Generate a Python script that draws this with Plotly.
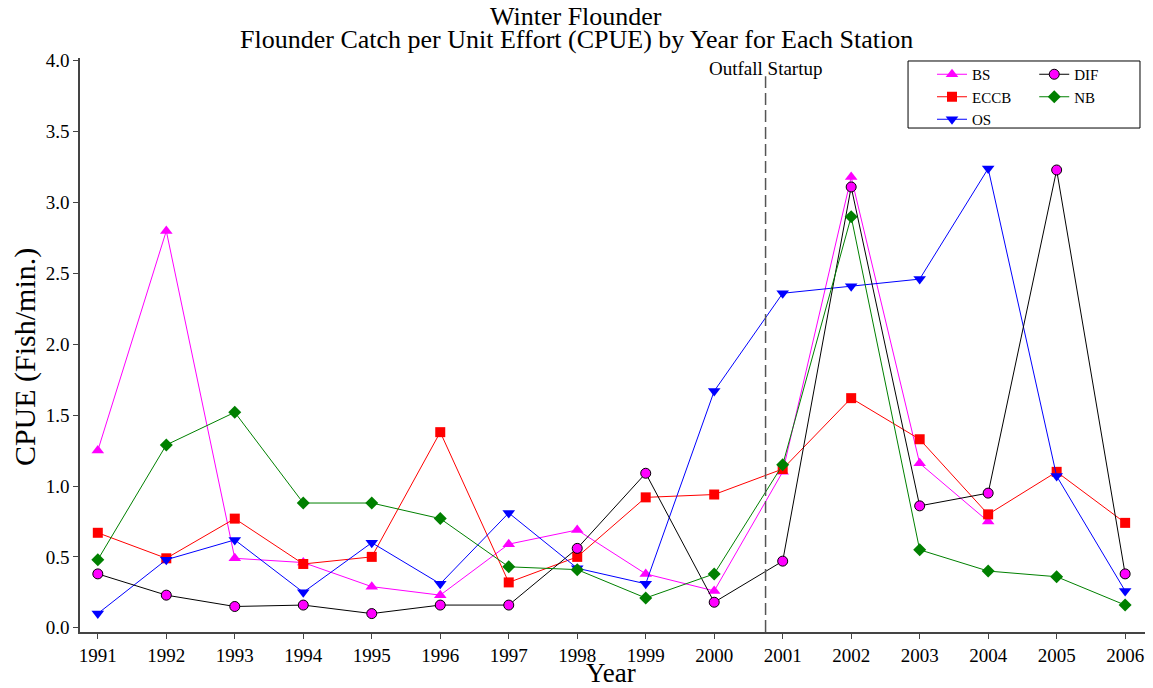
import plotly.graph_objects as go

years = list(range(1991, 2007))
bs = [1.25, 2.80, 0.49, 0.46, 0.29, 0.23, 0.59, 0.69, 0.38, 0.26, 1.10, 3.18, 1.16, 0.75, None, None]
eccb = [0.67, 0.49, 0.77, 0.45, 0.50, 1.38, 0.32, 0.50, 0.92, 0.94, 1.12, 1.62, 1.33, 0.80, 1.10, 0.74]
os_ = [0.10, 0.48, 0.62, 0.25, 0.60, 0.31, 0.81, 0.42, 0.31, 1.67, 2.36, 2.41, 2.46, 3.24, 1.07, 0.26]
dif = [0.38, 0.23, 0.15, 0.16, 0.10, 0.16, 0.16, 0.56, 1.09, 0.18, 0.47, 3.11, 0.86, 0.95, 3.23, 0.38]
nb = [0.48, 1.29, 1.52, 0.88, 0.88, 0.77, 0.43, 0.41, 0.21, 0.38, 1.15, 2.90, 0.55, 0.40, 0.36, 0.16]
startup_year = 2000.75
y_ticks = [0.0, 0.5, 1.0, 1.5, 2.0, 2.5, 3.0, 3.5, 4.0]

FONT = "Liberation Serif"

fig = go.Figure()
fig.add_trace(go.Scatter(x=years, y=bs, name="BS", mode="lines+markers",
                         line=dict(color="#ff00ff", width=1),
                         marker=dict(symbol="triangle-up", size=11, color="#ff00ff"),
                         legend="legend"))
fig.add_trace(go.Scatter(x=years, y=eccb, name="ECCB", mode="lines+markers",
                         line=dict(color="#ff0000", width=1),
                         marker=dict(symbol="square", size=10, color="#ff0000"),
                         legend="legend"))
fig.add_trace(go.Scatter(x=years, y=os_, name="OS", mode="lines+markers",
                         line=dict(color="#0000ff", width=1),
                         marker=dict(symbol="triangle-down", size=11, color="#0000ff"),
                         legend="legend"))
fig.add_trace(go.Scatter(x=years, y=dif, name="DIF", mode="lines+markers",
                         line=dict(color="#000000", width=1),
                         marker=dict(symbol="circle", size=10, color="#ff00ff",
                                     line=dict(color="#000000", width=1)),
                         legend="legend2"))
fig.add_trace(go.Scatter(x=years, y=nb, name="NB", mode="lines+markers",
                         line=dict(color="#008000", width=1),
                         marker=dict(symbol="diamond", size=10, color="#008000"),
                         legend="legend2"))

fig.add_shape(type="line", xref="x", yref="paper", x0=startup_year, x1=startup_year,
              y0=0, y1=0.968, line=dict(color="#555555", width=1.5, dash="12px,5px"))
fig.add_annotation(x=startup_year, y=1.0, xref="x", yref="paper", yanchor="top",
                   text="Outfall Startup", showarrow=False,
                   font=dict(family=FONT, size=19, color="black"), yshift=2)

fig.add_shape(type="rect", xref="paper", yref="paper",
              x0=0.7775, x1=0.9953, y0=0.878, y1=0.9948,
              line=dict(color="black", width=1), fillcolor="rgba(0,0,0,0)")

# titles
fig.add_annotation(x=0.466, y=1.0725, xref="paper", yref="paper", yanchor="middle",
                   text="Winter Flounder", showarrow=False,
                   font=dict(family=FONT, size=26, color="black"))
fig.add_annotation(x=0.466, y=1.0314, xref="paper", yref="paper", yanchor="middle",
                   text="Flounder Catch per Unit Effort (CPUE) by Year for Each Station",
                   showarrow=False, font=dict(family=FONT, size=26, color="black"))
fig.add_annotation(x=0.4986, y=-0.071, xref="paper", yref="paper", yanchor="middle",
                   text="Year", showarrow=False,
                   font=dict(family=FONT, size=27, color="black"))
fig.add_annotation(x=-0.0516, y=0.479, xref="paper", yref="paper", yanchor="middle",
                   xanchor="center", textangle=-90,
                   text="CPUE (Fish/min.)", showarrow=False,
                   font=dict(family=FONT, size=30, color="black"))

leg_common = dict(font=dict(family=FONT, size=15, color="black"),
                  bgcolor="rgba(0,0,0,0)", borderwidth=0, tracegroupgap=0,
                  yanchor="top", xanchor="left", itemwidth=30)
# page body has an 8px margin: figure is sized/offset so the plot area lands at
# x 80..1145, y 58..632 in the 1153x688 window
fig.update_layout(
    width=1145, height=680,
    paper_bgcolor="white", plot_bgcolor="white",
    margin=dict(l=72, r=8, t=50, b=56, autoexpand=False),
    font=dict(family=FONT, color="black"),
    legend=dict(x=0.80, y=1.0, **leg_common),
    legend2=dict(x=0.896, y=1.0, **leg_common),
    xaxis=dict(range=[1990.74, 2006.29], tickmode="array", tickvals=years,
               ticktext=[str(y) for y in years], automargin=False,
               showgrid=False, zeroline=False, showline=True, linecolor="#444444",
               linewidth=1.5, ticks="outside", ticklen=5, tickcolor="#444444",
               tickfont=dict(family=FONT, size=19, color="black")),
    yaxis=dict(range=[-0.03, 4.02], tickmode="array", tickvals=y_ticks,
               ticktext=[f"{v:.1f}" for v in y_ticks], automargin=False,
               showgrid=False, zeroline=False, showline=True, linecolor="#444444",
               linewidth=1.5, ticks="outside", ticklen=5, tickcolor="#444444",
               tickfont=dict(family=FONT, size=19, color="black")),
)

fig.write_html("out.html")
